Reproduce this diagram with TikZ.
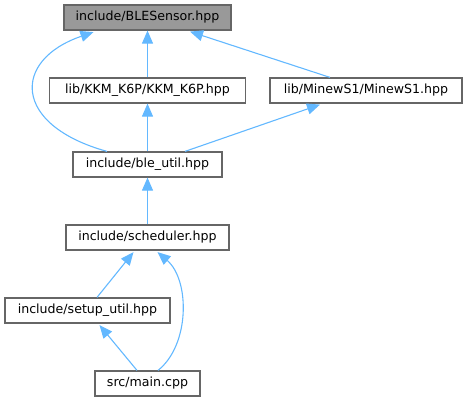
\documentclass[tikz,border=0pt]{standalone}
\usepackage{fontspec}
\setmainfont{DejaVu Sans}
\usetikzlibrary{arrows.meta,calc}
\definecolor{edgec}{HTML}{63B8FF}
\definecolor{boxc}{HTML}{666666}
\definecolor{curc}{HTML}{999999}
\begin{document}
\begin{tikzpicture}[x=1pt,y=-1pt,
  box/.style={draw=boxc,line width=1.2pt,fill=white,minimum height=25pt,inner sep=0pt,
    font=\fontsize{12.6}{15}\selectfont,text=black},
  edge/.style={draw=edgec,line width=1.1pt,-{Triangle[length=13pt,width=11pt]}}]
\useasboundingbox (0,0) rectangle (468,403);
\node[box,fill=curc,minimum width=167pt] (ble) at (147.5,17.5) {include/BLESensor.hpp};
\node[box,minimum width=196pt] (kkm) at (147.5,90.5) {lib/KKM\_K6P/KKM\_K6P.hpp};
\node[box,minimum width=192pt] (minew) at (366,90.5) {lib/MinewS1/MinewS1.hpp};
\node[box,minimum width=149pt] (util) at (147.5,164.5) {include/ble\_util.hpp};
\node[box,minimum width=163pt] (sched) at (147.5,237.5) {include/scheduler.hpp};
\node[box,minimum width=165pt] (setup) at (87.5,310.5) {include/setup\_util.hpp};
\node[box,minimum width=105pt] (main) at (147.5,383.5) {src/main.cpp};

\draw[edge] (kkm.north) -- (ble.south);
\draw[edge] ($(minew.north)+(-36,0)$) -- ($(ble.south)+(42.5,1)$);
\draw[edge] ($(util.north)+(-40.5,0)$) .. controls (12,125) and (12,60) .. ($(ble.south)+(-54,1.5)$);
\draw[edge] (util.north) -- (kkm.south);
\draw[edge] ($(util.north)+(37.5,0)$) -- ($(minew.south)+(-46,1)$);
\draw[edge] (sched.north) -- (util.south);
\draw[edge] ($(setup.north)+(9.5,0)$) -- ($(sched.south)+(-14,1.5)$);
\draw[edge] ($(main.north)+(-10.5,0)$) -- ($(setup.south)+(12,1.5)$);
\draw[edge] ($(main.north)+(10.5,0)$) .. controls (190,345) and (190,280) .. ($(sched.south)+(10,1.5)$);
\end{tikzpicture}
\end{document}
